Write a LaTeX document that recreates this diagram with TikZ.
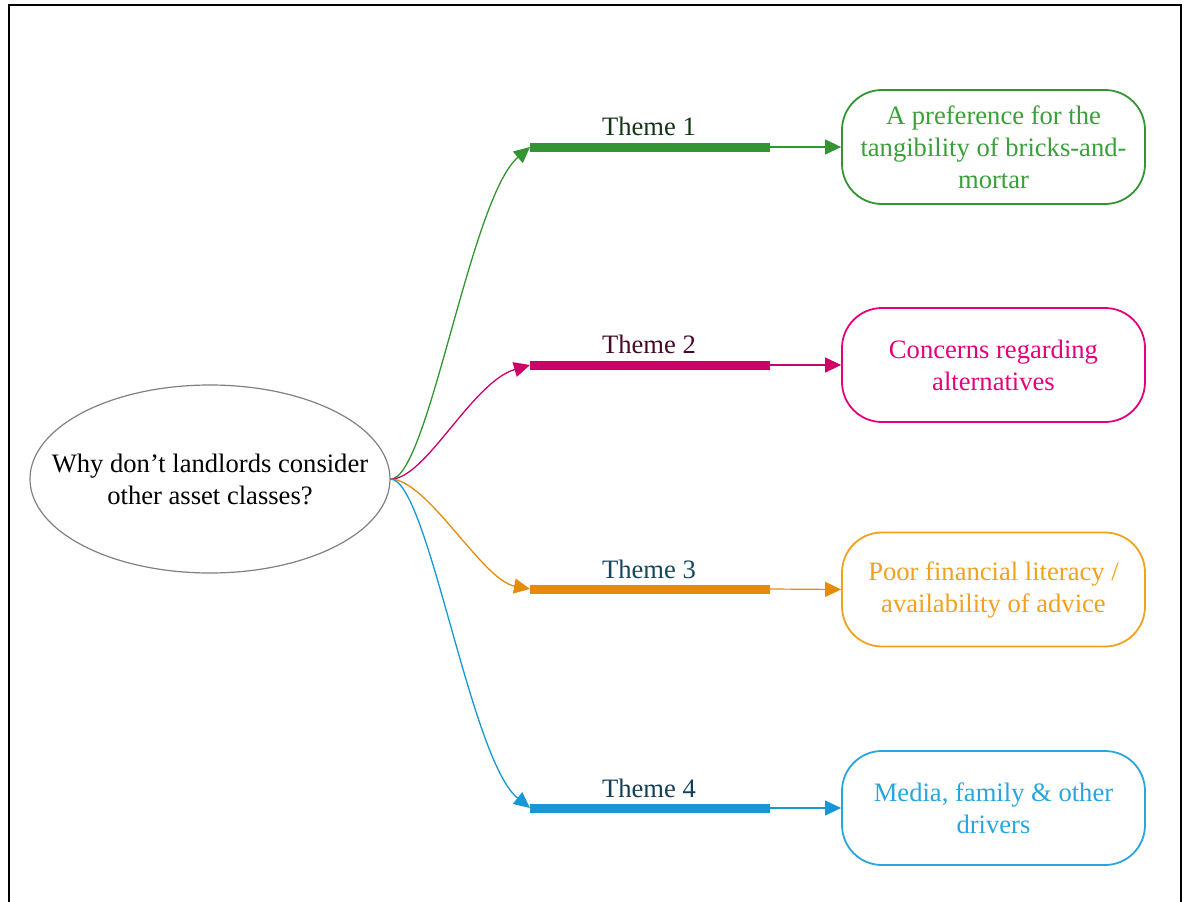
\documentclass[tikz,border=0pt]{standalone}
\usepackage{fontspec}
\setmainfont{Liberation Serif}
\usetikzlibrary{arrows.meta,shapes.geometric}

\definecolor{gA}{RGB}{50,148,50}
\definecolor{gAtext}{RGB}{56,160,56}
\definecolor{gAlabel}{RGB}{22,52,22}
\definecolor{mA}{RGB}{204,0,102}
\definecolor{mAtext}{RGB}{228,0,124}
\definecolor{mAlabel}{RGB}{70,10,40}
\definecolor{oA}{RGB}{228,140,10}
\definecolor{oAtext}{RGB}{242,160,30}
\definecolor{oAlabel}{RGB}{22,70,92}
\definecolor{bA}{RGB}{25,150,212}
\definecolor{bAtext}{RGB}{40,165,222}
\definecolor{bAlabel}{RGB}{20,62,84}

\tikzset{
  txt/.style={font=\fontsize{26.6}{32}\selectfont, align=center},
  question/.style={ellipse, draw=black!50, line width=1.2pt, minimum width=360pt,
    minimum height=188pt, inner sep=0pt},
  outcome/.style={draw, rounded corners=40pt, line width=1.8pt, minimum width=303pt,
    minimum height=114pt, inner sep=0pt, txt},
  themebar/.style={line width=9pt},
  feed/.style={line width=1.2pt, -{Triangle[length=16pt,width=15pt]}},
  branch/.style={line width=1.3pt, -{Triangle[length=16pt,width=15pt]}},
  themelabel/.style={txt, anchor=south, inner sep=0pt},
}

\begin{document}
\begin{tikzpicture}[x=1pt, y=-1pt]
\useasboundingbox (0,0) rectangle (1187,902);

% outer frame, open at the bottom
\draw[line width=2pt] (9,902) -- (9,5) -- (1181,5) -- (1181,902);

% central question
\node[question] (q) at (210,479) {};
\node[txt] (qt) at (q.center) {Why don’t landlords consider\\other asset classes?};

% theme bars
\coordinate (s1) at (530,147); \coordinate (e1) at (770,147);
\coordinate (s2) at (530,365); \coordinate (e2) at (770,365);
\coordinate (s3) at (530,589); \coordinate (e3) at (770,589);
\coordinate (s4) at (530,808); \coordinate (e4) at (770,808);

\draw[themebar, gA] (s1) -- (e1);
\draw[themebar, mA] (s2) -- (e2);
\draw[themebar, oA] (s3) -- (e3);
\draw[themebar, bA] (s4) -- (e4);

\node[themelabel, text=gAlabel] (l1) at (649,136) {Theme 1};
\node[themelabel, text=mAlabel] (l2) at (649,354) {Theme 2};
\node[themelabel, text=oAlabel] (l3) at (649,579) {Theme 3};
\node[themelabel, text=bAlabel] (l4) at (649,798) {Theme 4};

% outcome boxes
\node[outcome, draw=gA, text=gAtext] (o1) at (993.5,147) {A preference for the\\tangibility of bricks-and-\\mortar};
\node[outcome, draw=mAtext, text=mAtext] (o2) at (993.5,365) {Concerns regarding\\alternatives};
\node[outcome, draw=oAtext, text=oAtext] (o3) at (993.5,589.5) {Poor financial literacy /\\availability of advice};
\node[outcome, draw=bAtext, text=bAtext] (o4) at (993.5,808) {Media, family \& other\\drivers};

% bar to box connectors
\draw[feed, gA] (e1) -- (o1.west);
\draw[feed, mA] (e2) -- (o2.west);
\draw[feed, oA] (e3) -- (o3.west);
\draw[feed, bA] (e4) -- (o4.west);

% branches from the question
\draw[branch, gA] (q.east) .. controls (428,480) and (470,198) .. (s1);
\draw[branch, mA] (q.east) .. controls (425,480) and (472,382) .. (s2);
\draw[branch, oA] (q.east) .. controls (428,480) and (482,580) .. (s3);
\draw[branch, bA] (q.east) .. controls (428,480) and (470,760) .. (s4);
\end{tikzpicture}
\end{document}
